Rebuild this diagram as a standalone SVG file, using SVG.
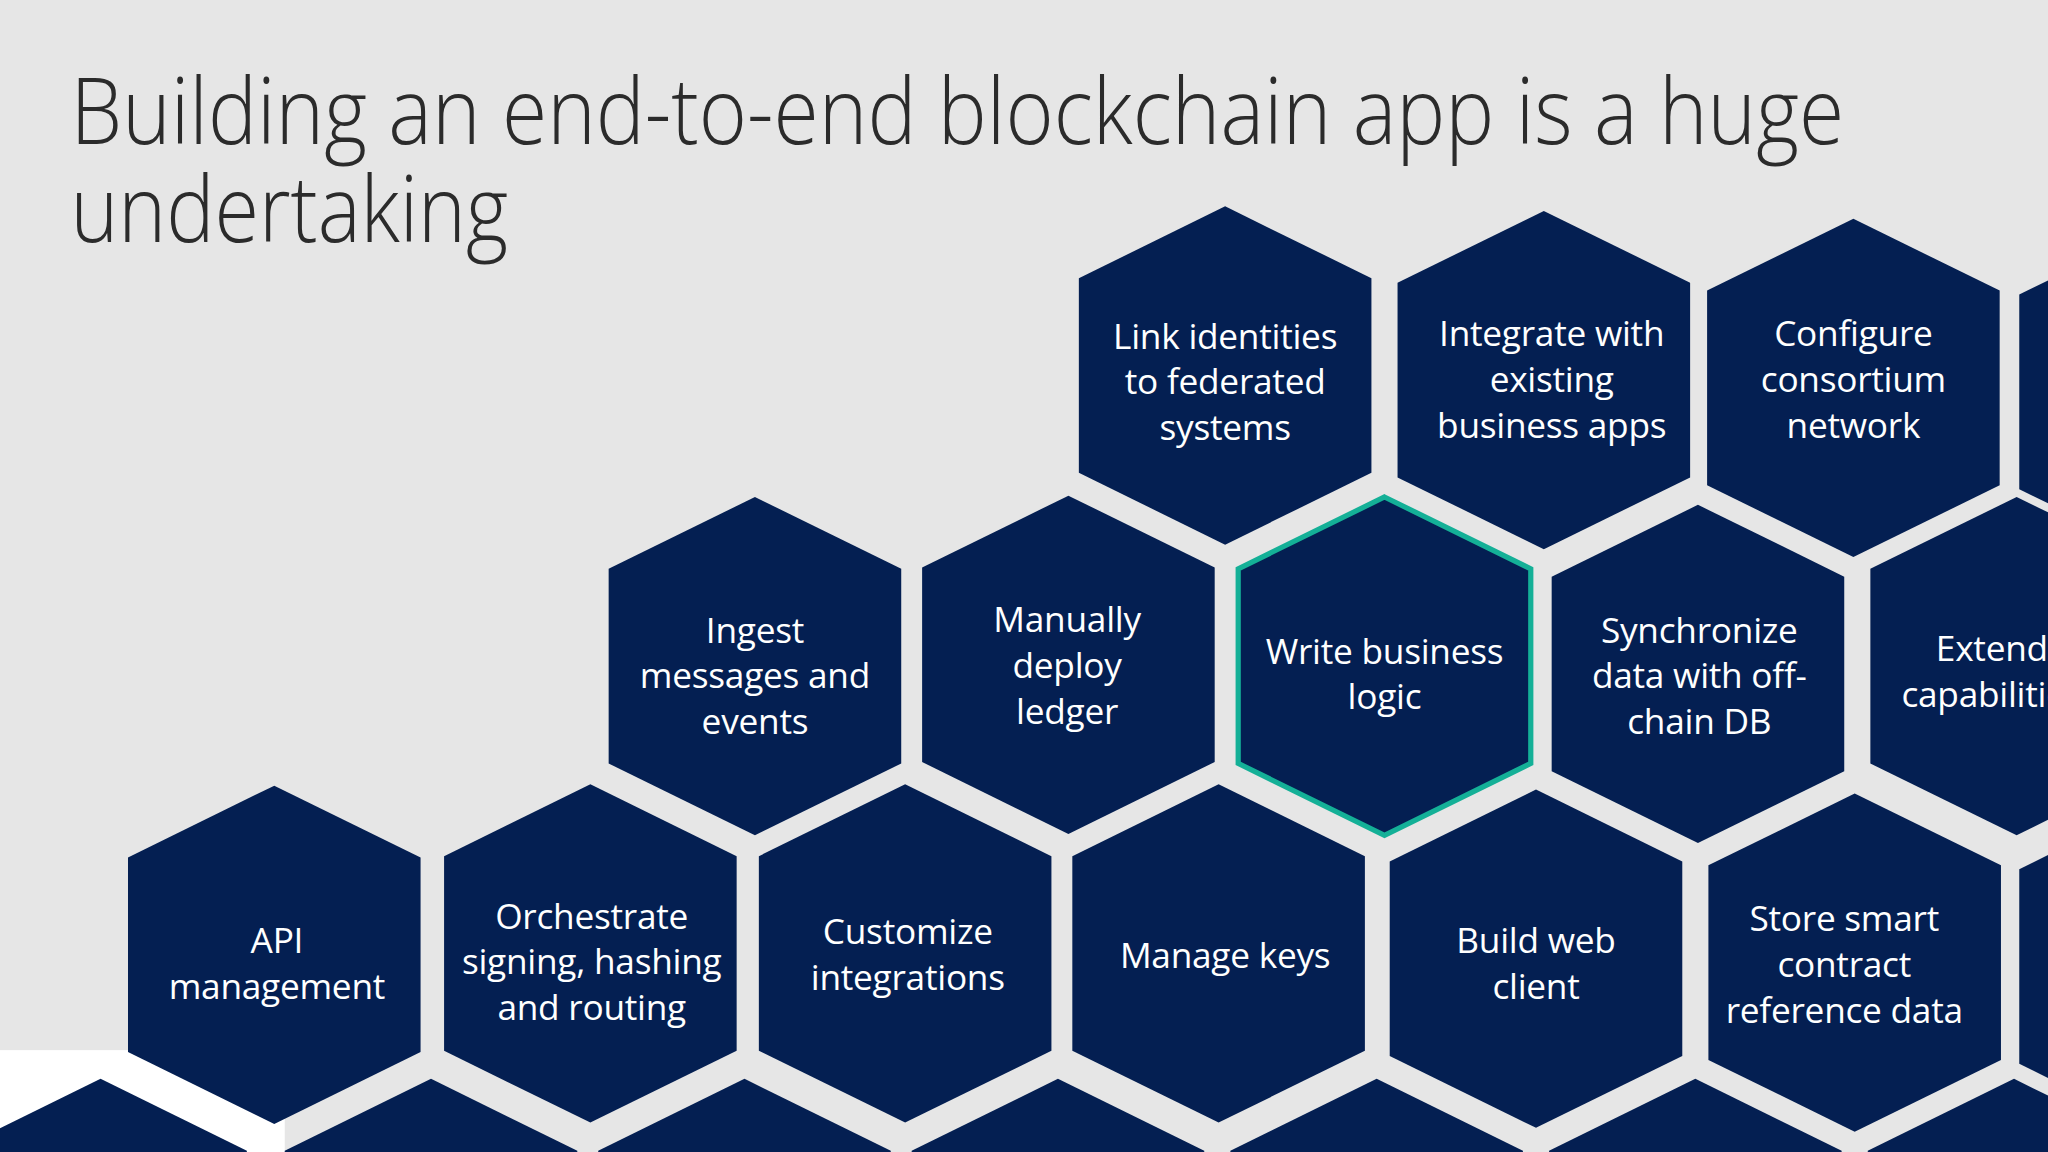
<svg xmlns="http://www.w3.org/2000/svg" width="2048" height="1152" viewBox="0 0 2048 1152">
<defs>
<style>
.h{fill:#041f52}
.t{fill:#fff;font-family:"Open Sans","Noto Sans",sans-serif;font-size:27px;text-anchor:middle;letter-spacing:-0.2px}
.title{fill:#2b2b2b;font-family:"Open Sans","Noto Sans",sans-serif;font-weight:300;font-size:70px}
</style>
<polygon id="hex" points="0,-129.5 112,-74.5 112,74.5 0,129.5 -112,74.5 -112,-74.5"/>
</defs>
<rect width="2048" height="1152" fill="#e6e6e6"/>
<g transform="scale(1.30612)">
<rect x="0" y="804" width="218" height="80" fill="#ffffff"/>
<text class="title" x="54" y="110" textLength="1358" lengthAdjust="spacingAndGlyphs">Building an end-to-end blockchain app is a huge</text>
<text class="title" x="54" y="185" textLength="335" lengthAdjust="spacingAndGlyphs">undertaking</text>
<g id="bottomrow">
<use href="#hex" class="h" x="77" y="955.5"/><use href="#hex" class="h" x="330" y="955.5"/><use href="#hex" class="h" x="570" y="955.5"/><use href="#hex" class="h" x="810" y="955.5"/><use href="#hex" class="h" x="1054" y="955.5"/><use href="#hex" class="h" x="1298" y="955.5"/><use href="#hex" class="h" x="1542" y="955.5"/>
</g>
<g id="n-link"><use href="#hex" class="h" x="938" y="287.5"/><text class="t" x="938" y="267">Link identities</text><text class="t" x="938" y="302">to federated</text><text class="t" x="938" y="337">systems</text></g>
<g id="n-integrate"><use href="#hex" class="h" x="1182" y="291"/><text class="t" x="1188" y="265">Integrate with</text><text class="t" x="1188" y="300">existing</text><text class="t" x="1188" y="335">business apps</text></g>
<g id="n-configure"><use href="#hex" class="h" x="1419" y="297"/><text class="t" x="1419" y="265">Configure</text><text class="t" x="1419" y="300">consortium</text><text class="t" x="1419" y="335">network</text></g>
<g id="n-r1"><use href="#hex" class="h" x="1658" y="300"/></g>
<g id="n-ingest"><use href="#hex" class="h" x="578" y="510"/><text class="t" x="578" y="492">Ingest</text><text class="t" x="578" y="527">messages and</text><text class="t" x="578" y="562">events</text></g>
<g id="n-manual"><use href="#hex" class="h" x="818" y="509"/><text class="t" x="817" y="484">Manually</text><text class="t" x="817" y="519">deploy</text><text class="t" x="817" y="554">ledger</text></g>
<g id="n-write"><use href="#hex" class="h" x="1060" y="510" stroke="#14b097" stroke-width="4"/><text class="t" x="1060" y="508">Write business</text><text class="t" x="1060" y="543">logic</text></g>
<g id="n-sync"><use href="#hex" class="h" x="1300" y="516"/><text class="t" x="1301" y="492">Synchronize</text><text class="t" x="1301" y="527">data with off-</text><text class="t" x="1301" y="562">chain DB</text></g>
<g id="n-extend"><use href="#hex" class="h" x="1544" y="510"/><text class="t" x="1525" y="506">Extend</text><text class="t" x="1525" y="541">capabilities</text></g>
<g id="n-api"><use href="#hex" class="h" x="210" y="731"/><text class="t" x="212" y="730">API</text><text class="t" x="212" y="765">management</text></g>
<g id="n-orch"><use href="#hex" class="h" x="452" y="730"/><text class="t" x="453" y="711">Orchestrate</text><text class="t" x="453" y="746">signing, hashing</text><text class="t" x="453" y="781">and routing</text></g>
<g id="n-custom"><use href="#hex" class="h" x="693" y="730"/><text class="t" x="695" y="723">Customize</text><text class="t" x="695" y="758">integrations</text></g>
<g id="n-keys"><use href="#hex" class="h" x="933" y="730"/><text class="t" x="938" y="741">Manage keys</text></g>
<g id="n-web"><use href="#hex" class="h" x="1176" y="734"/><text class="t" x="1176" y="730">Build web</text><text class="t" x="1176" y="765">client</text></g>
<g id="n-store"><use href="#hex" class="h" x="1420" y="737"/><text class="t" x="1412" y="713">Store smart</text><text class="t" x="1412" y="748">contract</text><text class="t" x="1412" y="783">reference data</text></g>
<g id="n-r2"><use href="#hex" class="h" x="1658" y="740"/></g>
</g>
<g id="connectors"/>
</svg>
